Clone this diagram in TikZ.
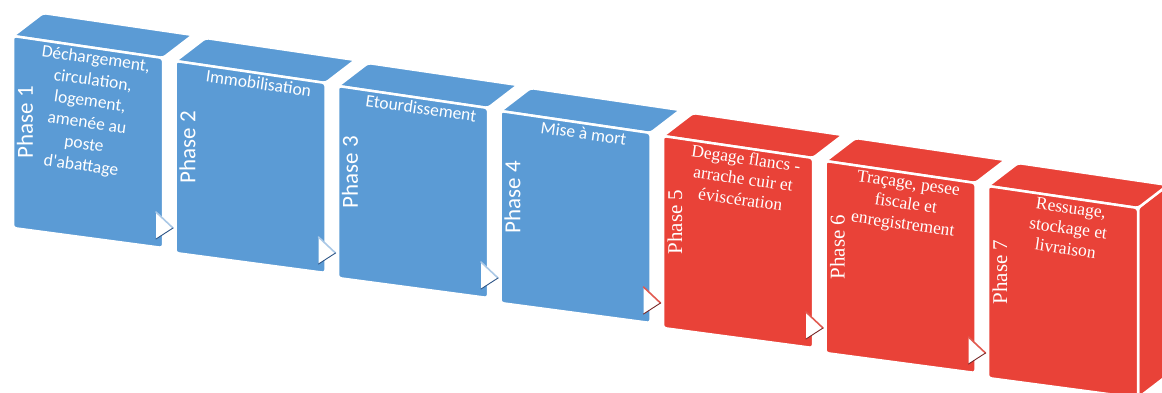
\documentclass[tikz,border=0pt]{standalone}
\usepackage{fontspec}
\usetikzlibrary{calc}
\newfontfamily\carl{Carlito}
\newfontfamily\lserif{Liberation Serif}
\definecolor{cblue}{RGB}{91,155,213}
\definecolor{cred}{RGB}{233,66,56}
\definecolor{dblue}{RGB}{45,85,135}
\definecolor{dred}{RGB}{120,40,40}
\definecolor{lblue}{RGB}{170,200,230}
\definecolor{lred}{RGB}{225,90,80}
\tikzset{
  face/.style={fill=#1,draw=white,line width=2.5pt,rounded corners=3pt,line join=round},
  phaselbl/.style={text=white,rotate=90,inner sep=0pt},
  titlelbl/.style={text=white,align=center,rotate=-8,inner sep=0pt,anchor=north},
  bluetitle/.style={font=\carl\fontsize{17.5}{21.5}\selectfont},
  redtitle/.style={font=\lserif\fontsize{17.5}{20.5}\selectfont},
  bluephase/.style={font=\carl\fontsize{23}{23}\selectfont},
  redphase/.style={font=\lserif\fontsize{21}{21}\selectfont},
  tri/.style={fill=white,draw=none},
}
\newcommand\phasebox[6]{%
  \coordinate (#1tl) at (#2,#3);
  \coordinate (#1tr) at (#2+150,#3+22);
  \coordinate (#1br) at (#2+150,#3+212);
  \coordinate (#1bl) at (#2,#3+192);
  \filldraw[face=c#4] (#1tl) -- (#1tr) -- ($(#1tr)+(30,-23)$) -- ($(#1tl)+(30,-23)$) -- cycle;
  \filldraw[face=c#4] (#1tl) -- (#1tr) -- (#1br) -- (#1bl) -- cycle;
  \node[phaselbl,#4phase] (#1p) at ($(#1tl)+(12,86)$) {#5};
  \node[titlelbl,#4title] (#1t) at ($(#1tl)+(84,16)$) {#6};
}
\newcommand\phasearrow[3]{%
  \coordinate (#1a) at ($(#1br)+(-7,-36)$);
  \coordinate (#1b) at ($(#1br)+(-7,-9)$);
  \coordinate (#1c) at ($(#1br)+(10,-20)$);
  \fill[tri] (#1a) -- (#1c) -- (#1b) -- cycle;
  \draw[#3,line width=1.6pt,line cap=round] (#1a) -- (#1c);
  \draw[#2,line width=0.9pt,line cap=round] (#1b) -- (#1c);
}
\begin{document}
\begin{tikzpicture}[x=1pt,y=-1pt]
\useasboundingbox (0,0) rectangle (1162,392);
\phasebox{b1}{13}{36}{blue}{Phase 1}{Déchargement,\\circulation,\\logement,\\amenée au\\poste\\d'abattage}
\phasebox{b2}{175.5}{61}{blue}{Phase 2}{Immobilisation}
\phasebox{b3}{338}{86}{blue}{Phase 3}{Etourdissement}
\phasebox{b4}{500.5}{111}{blue}{Phase 4}{Mise à mort}
\phasebox{b5}{663}{136}{red}{Phase 5}{Degage flancs -\\arrache cuir et\\éviscération}
\phasebox{b6}{825.5}{161}{red}{Phase 6}{Traçage, pesee\\fiscale et\\enregistrement}
\filldraw[face=cred] (988+150,186+22) -- (988+150,186+212) -- (988+180,186+189) -- (988+180,186-1) -- cycle;
\phasebox{b7}{988}{186}{red}{Phase 7}{Ressuage,\\stockage et\\livraison}
\phasearrow{b1}{dblue}{lblue}
\phasearrow{b2}{dblue}{lblue}
\phasearrow{b3}{dblue}{lblue}
\phasearrow{b4}{dred}{lred}
\phasearrow{b5}{dred}{lred}
\phasearrow{b6}{dred}{lred}
\end{tikzpicture}
\end{document}
